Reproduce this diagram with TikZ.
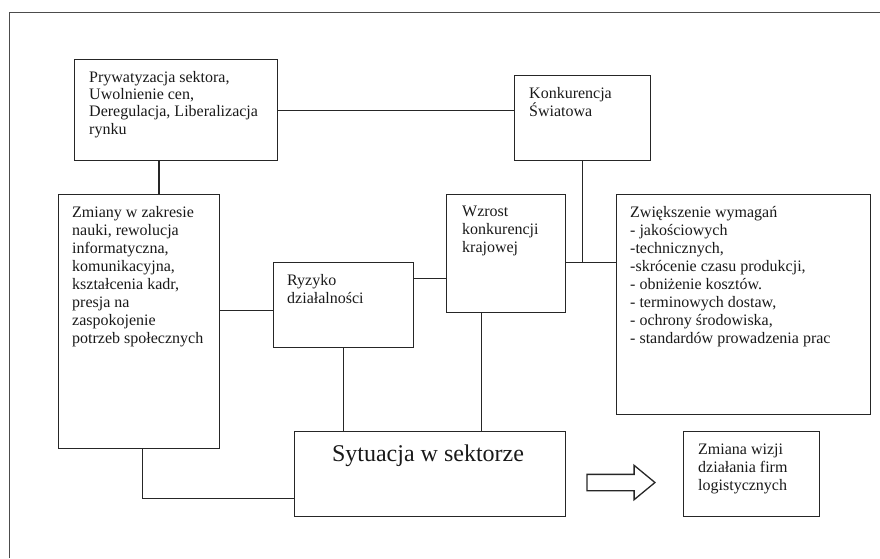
\documentclass[tikz,border=0pt]{standalone}
\usepackage{fontspec}
\setmainfont{Liberation Serif}
\usetikzlibrary{shapes.arrows}

\begin{document}
\begin{tikzpicture}[x=1pt,y=-1pt,
  kasten/.style={draw=black!85, line width=1.3pt, anchor=north west, inner sep=0pt},
  tekst/.style={anchor=north west, align=left, inner sep=0pt, text=black!90, font=\fontsize{16}{18}\selectfont},
  linia/.style={draw=black!85, line width=1.3pt},
  pfeil/.style={single arrow, draw=black!85, line width=1.3pt, inner sep=0pt, text height=7.5pt, text depth=7.5pt, minimum width=33pt, minimum height=68pt, single arrow head extend=9pt, single arrow tip angle=79}]
  \useasboundingbox (0,0) rectangle (880,558);
  \draw[black!70, line width=1pt] (9,558) -- (9,12) -- (880,12);
  % ramki
  \node[kasten, minimum width=203pt, minimum height=101pt] (pryw) at (74,59) {};
  \node[kasten, minimum width=136pt, minimum height=85pt] (konk) at (514,75) {};
  \node[kasten, minimum width=161pt, minimum height=254pt] (zmiany) at (58,194) {};
  \node[kasten, minimum width=140pt, minimum height=85pt] (ryzyko) at (273,262) {};
  \node[kasten, minimum width=119pt, minimum height=118pt] (wzrost) at (446,194) {};
  \node[kasten, minimum width=254pt, minimum height=220pt] (zwiek) at (616,194) {};
  \node[kasten, minimum width=271pt, minimum height=85pt] (sytuacja) at (294,431) {};
  \node[kasten, minimum width=136pt, minimum height=85pt] (zmiana) at (683,431) {};
  % teksty
  \node[tekst, font=\fontsize{16}{17.4}\selectfont] (pryw-t) at (89,70.7) {Prywatyzacja sektora,\\Uwolnienie cen,\\Deregulacja, Liberalizacja\\rynku};
  \node[tekst] (konk-t) at (529,87) {Konkurencja\\Światowa};
  \node[tekst] (zmiany-t) at (72,206) {Zmiany w zakresie\\nauki, rewolucja\\informatyczna,\\komunikacyjna,\\kształcenia kadr,\\presja na\\zaspokojenie\\potrzeb społecznych};
  \node[tekst] (ryzyko-t) at (287,273.7) {Ryzyko\\działalności};
  \node[tekst] (wzrost-t) at (462,206) {Wzrost\\konkurencji\\krajowej};
  \node[tekst] (zwiek-t) at (630,206) {Zwiększenie wymagań\\- jakościowych\\-technicznych,\\-skrócenie czasu produkcji,\\- obniżenie kosztów.\\- terminowych dostaw,\\- ochrony środowiska,\\- standardów prowadzenia prac};
  \node[anchor=base, inner sep=0pt, text=black!90, font=\fontsize{24}{26}\selectfont] (sytuacja-t) at (428,461.7) {Sytuacja w sektorze};
  \node[tekst] (zmiana-t) at (698,444) {Zmiana wizji\\działania firm\\logistycznych};
  \node[pfeil] (pfeil) at (616,482.5) {};
  % punkty pomocnicze
  \coordinate (pryw-d) at ([xshift=85pt]pryw.south west);
  \coordinate (ryzyko-l) at ([yshift=-5.5pt]ryzyko.west);
  \coordinate (ryzyko-r) at ([yshift=26.5pt]ryzyko.east);
  \coordinate (wzrost-d) at ([xshift=-24.5pt]wzrost.south);
  \coordinate (zwiek-l) at ([yshift=42pt]zwiek.west);
  \coordinate (zmiany-d) at ([xshift=3.5pt]zmiany.south);
  \coordinate (sytuacja-l) at ([yshift=-24.5pt]sytuacja.west);
  % linie
  \draw[linia] (pryw.east) -- (pryw.east -| konk.west);
  \draw[linia] (pryw-d) -- (pryw-d |- zmiany.north);
  \draw[linia] (ryzyko-l) -- (ryzyko-l -| zmiany.east);
  \draw[linia] (ryzyko-r) -- (ryzyko-r -| wzrost.west);
  \draw[linia] (ryzyko.south) -- (ryzyko.south |- sytuacja.north);
  \draw[linia] (wzrost-d) -- (wzrost-d |- sytuacja.north);
  \draw[linia] (zwiek-l) -- (zwiek-l -| wzrost.east);
  \draw[linia] (konk.south) -- (konk.south |- zwiek-l);
  \draw[linia] (zmiany-d) |- (sytuacja-l);
\end{tikzpicture}
\end{document}
